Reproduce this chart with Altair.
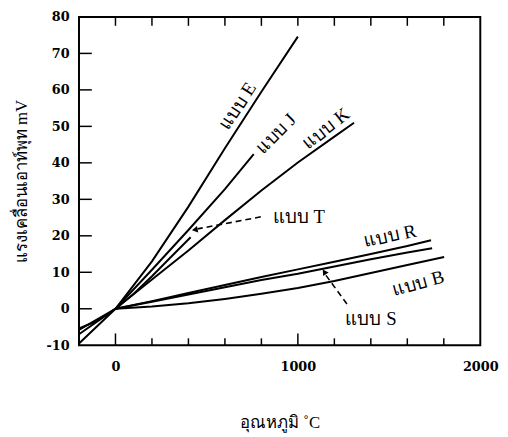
import altair as alt
import pandas as pd

# ---------------- data ----------------
x_domain = [-200, 2000]
y_domain = [-10, 80]

temp_E = [-200, 0, 200, 400, 600, 800, 1000]
emf_E = [-9.5, 0, 13.0, 28.0, 44.0, 59.5, 74.6]

temp_J = [-200, 0, 200, 400, 600, 758]
emf_J = [-7.0, 0, 10.7, 21.6, 32.8, 42.4]

temp_K = [-200, 0, 200, 400, 600, 800, 1000, 1200, 1308]
emf_K = [-5.8, 0, 8.0, 16.0, 24.3, 32.4, 40.1, 47.2, 51.0]

temp_T = [-200, -100, 0, 100, 200, 300, 412]
emf_T = [-5.4, -3.3, 0, 4.1, 8.9, 14.0, 19.6]

temp_R = [0, 200, 400, 600, 800, 1000, 1200, 1400, 1600, 1730]
emf_R = [0, 2.1, 4.3, 6.5, 8.7, 10.8, 12.9, 15.0, 17.2, 18.8]

temp_S = [0, 200, 400, 600, 800, 1000, 1200, 1400, 1600, 1736]
emf_S = [0, 1.9, 3.9, 5.9, 7.9, 9.6, 11.6, 13.6, 15.4, 16.6]

temp_B = [0, 200, 400, 600, 800, 1000, 1200, 1400, 1600, 1802]
emf_B = [0, 0.6, 1.5, 2.7, 4.1, 5.7, 7.6, 9.8, 12.0, 14.2]

label_text = ["แบบ E", "แบบ J", "แบบ K", "แบบ T", "แบบ R", "แบบ B", "แบบ S"]
label_x = [670, 880, 1154, 863, 1505, 1659, 1401]
label_y = [55.6, 48.0, 49.4, 25.0, 19.9, 7.0, -2.7]
label_angle = [303, 315, 322, 0, 348, 345, 0]
label_align = ["center", "center", "center", "left", "center", "center", "center"]

arrow_id = ["T", "T", "S", "S"]
arrow_x = [797, 450, 1269, 1152]
arrow_y = [25.2, 21.9, 1.3, 9.3]
head_x = [440, 1148]
head_y = [21.7, 9.9]
head_angle = [259, 326]

x_major_ticks = [0, 1000]
x_minor_ticks = [200, 400, 600, 800, 1200, 1400, 1600, 1800]
x_top_ticks = [0, 200, 400, 600, 800, 1000, 1200, 1400, 1600, 1800]
y_ticks = [0, 10, 20, 30, 40, 50, 60, 70]
x_labels = [0, 1000, 2000]
y_labels = [-10, 0, 10, 20, 30, 40, 50, 60, 70, 80]

x_title = "อุณหภูมิ ˚C"
y_title = "แรงเคลื่อนเอาท์พุท mV"

# ---------------- tables ----------------
rows = []
for name, ts, es in [("E", temp_E, emf_E), ("J", temp_J, emf_J), ("K", temp_K, emf_K),
                     ("T", temp_T, emf_T), ("R", temp_R, emf_R), ("S", temp_S, emf_S),
                     ("B", temp_B, emf_B)]:
    for t, e in zip(ts, es):
        rows.append({"type": name, "temp": t, "emf": e})
curves = pd.DataFrame(rows)

labels = pd.DataFrame({"text": label_text, "x": label_x, "y": label_y,
                       "angle": label_angle, "align": label_align})
arrows = pd.DataFrame({"id": arrow_id, "x": arrow_x, "y": arrow_y,
                       "o": list(range(len(arrow_x)))})
heads = pd.DataFrame({"x": head_x, "y": head_y, "angle": head_angle})

W, H = 407, 333

xs = alt.Scale(domain=x_domain, nice=False, zero=False)
ys = alt.Scale(domain=y_domain, nice=False, zero=False)

x_axis = alt.Axis(values=x_labels, format="d", labelOverlap=False, labelBound=False,
                  title=x_title, ticks=False, domain=False, grid=False,
                  labelPadding=16, labelFont="DejaVu Serif", labelFontWeight="bold",
                  labelFontSize=13, labelColor="black", labelFlush=False,
                  titleFont="Liberation Serif", titleFontSize=17, titleFontWeight="normal",
                  titleColor="black", titleY=78, titleBaseline="middle")
y_axis = alt.Axis(values=y_labels, format="d", labelOverlap=False, labelBound=False,
                  labelExpr="replace(datum.label, '\u2212', '-')",
                  title=y_title, ticks=False, domain=False, grid=False,
                  labelPadding=10, labelFont="DejaVu Serif", labelFontWeight="bold",
                  labelFontSize=13, labelColor="black", labelFlush=False,
                  titleFont="Liberation Serif", titleFontSize=17, titleFontWeight="normal",
                  titleColor="black", titleX=-58, titleBaseline="middle")

XQ = lambda f: alt.X(f, scale=xs, axis=x_axis, title=x_title)
YQ = lambda f: alt.Y(f, scale=ys, axis=y_axis, title=y_title)

base_lines = alt.Chart(curves).mark_line(color="black", strokeWidth=2, clip=True).encode(
    x=XQ("temp:Q"),
    y=YQ("emf:Q"),
    detail="type:N",
    order="temp:Q",
)

text_left = alt.Chart(labels[labels["align"] == "left"]).mark_text(
    align="left", baseline="middle", font="Liberation Serif", fontSize=19, color="black"
).encode(x=XQ("x:Q"), y=YQ("y:Q"), text="text:N",
         angle=alt.Angle("angle:Q", scale=None))

text_center = alt.Chart(labels[labels["align"] == "center"]).mark_text(
    align="center", baseline="middle", font="Liberation Serif", fontSize=19, color="black"
).encode(x=XQ("x:Q"), y=YQ("y:Q"), text="text:N",
         angle=alt.Angle("angle:Q", scale=None))

arrow_lines = alt.Chart(arrows).mark_line(color="black", strokeWidth=1.6,
                                          strokeDash=[6, 4]).encode(
    x=XQ("x:Q"), y=YQ("y:Q"), detail="id:N", order="o:Q")

arrow_heads = alt.Chart(heads).mark_point(shape="triangle", filled=True, color="black",
                                          size=45, opacity=1).encode(
    x=XQ("x:Q"), y=YQ("y:Q"), angle=alt.Angle("angle:Q", scale=None))

bottom_major = alt.Chart(pd.DataFrame({"t": x_major_ticks})).mark_rule(
    color="black", strokeWidth=1.5).encode(
    x=XQ("t:Q"), y=alt.value(H), y2=alt.value(H - 12))
bottom_minor = alt.Chart(pd.DataFrame({"t": x_minor_ticks})).mark_rule(
    color="black", strokeWidth=1.5).encode(
    x=XQ("t:Q"), y=alt.value(H), y2=alt.value(H - 7))
top_ticks = alt.Chart(pd.DataFrame({"t": x_top_ticks})).mark_rule(
    color="black", strokeWidth=1.5).encode(
    x=XQ("t:Q"), y=alt.value(0), y2=alt.value(9))
left_ticks = alt.Chart(pd.DataFrame({"t": y_ticks})).mark_rule(
    color="black", strokeWidth=1.5).encode(
    y=YQ("t:Q"), x=alt.value(0), x2=alt.value(13))

chart = alt.layer(
    base_lines, bottom_major, bottom_minor, top_ticks, left_ticks,
    arrow_lines, arrow_heads, text_left, text_center
).properties(
    width=W, height=H,
    autosize=alt.AutoSizeParams(type="none"),
    padding={"left": 72, "top": 6, "right": 20, "bottom": 90},
).configure(
    background="white",
    view=alt.ViewConfig(stroke="black", strokeWidth=2),
    axis=alt.AxisConfig(labelOverlap=False),
)

chart.save("out.html", embed_options={"renderer": "svg", "actions": False})
